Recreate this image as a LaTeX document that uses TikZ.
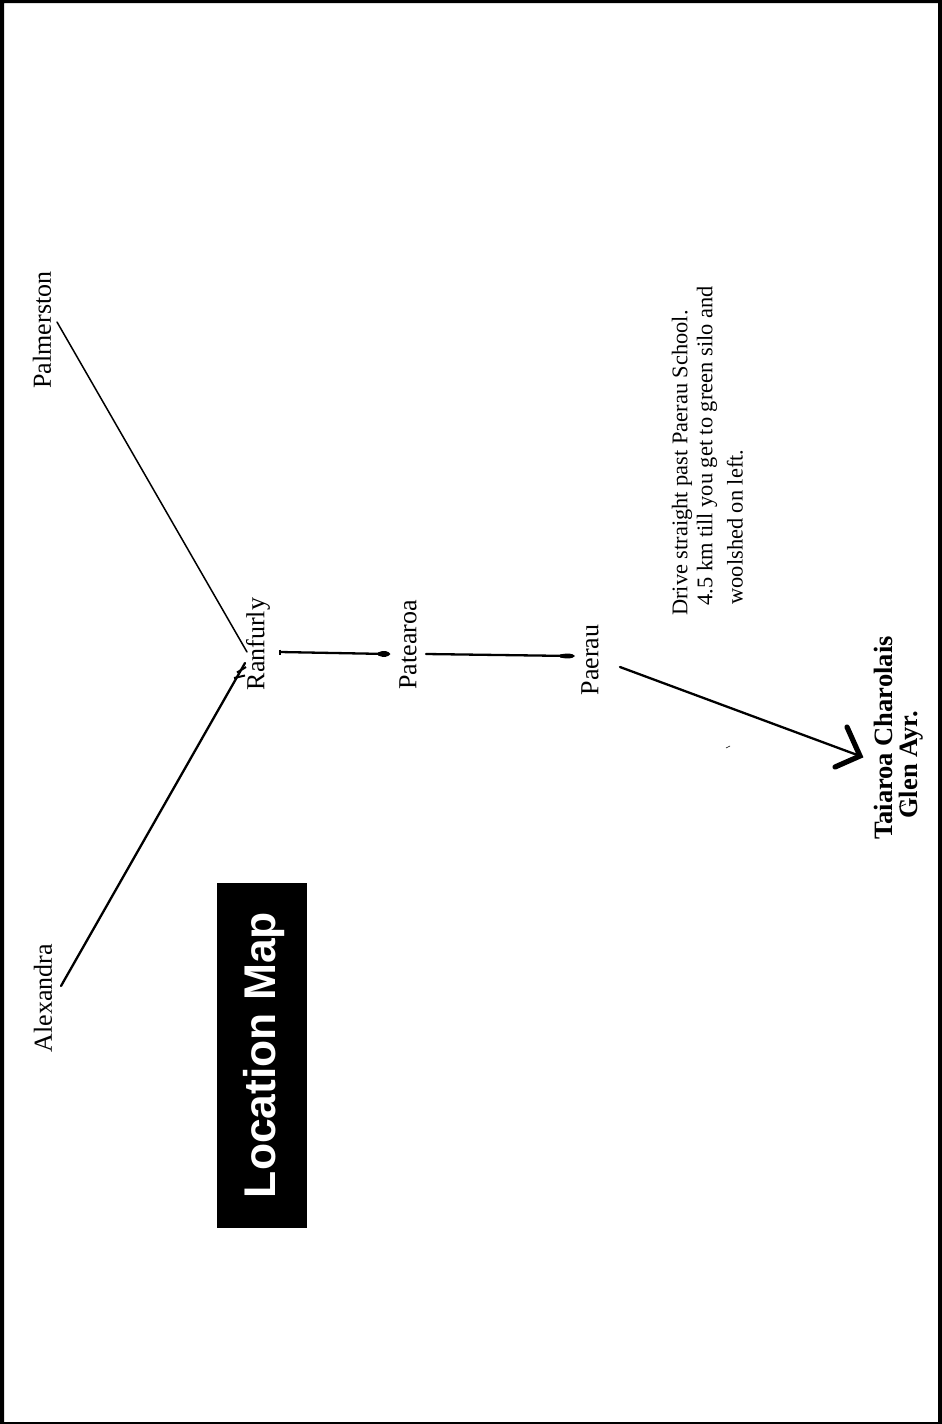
\documentclass[tikz,border=0pt]{standalone}
\usepackage{fontspec}
\setmainfont{Liberation Serif}
\newfontfamily\titlefont{Liberation Sans}
\tikzset{
  x=1pt,y=-1pt,
  place/.style={rotate=90,inner sep=0pt,font=\fontsize{26}{26}\selectfont},
  note/.style={rotate=90,inner sep=0pt,font=\fontsize{22.4}{23}\selectfont},
  farm/.style={rotate=90,inner sep=0pt,font=\fontsize{26.5}{27}\selectfont\bfseries},
  road/.style={line width=1.5pt,line cap=round},
  thickroad/.style={line width=2.3pt,line cap=round},
  headstroke/.style={line width=5.2pt,line cap=round,line join=miter}
}
\begin{document}
\begin{tikzpicture}
\useasboundingbox (0,0) rectangle (942,1424);
\fill[black,even odd rule] (0,0) rectangle (942,1424) (4,3) rectangle (938,1422);
\node[fill=black,minimum width=90pt,minimum height=345pt,inner sep=0pt] (titlebox) at (262,1055.5) {};
\node[rotate=90,inner sep=0pt,text=white,font=\titlefont\fontsize{44.4}{44}\selectfont\bfseries] (title) at (264,1055) {Location Map};
\node[place] (palmerston) at (42,330) {Palmerston};
\node[place] (alexandra) at (43,998) {Alexandra};
\node[place] (ranfurly) at (258,644) {Ranfurly};
\node[place] (patearoa) at (408,645) {Patearoa};
\node[place] (paerau) at (590,660) {Paerau};
\node[note] (l1) at (682,463) {Drive straight past Paerau School.};
\node[note] (l2) at (707,446) {4.5 km till you get to green silo and};
\node[note] (l3) at (735,527) {woolshed on left.};
\node[farm] (taiaroa) at (883,738) {Taiaroa Charolais};
\node[farm] (glen) at (911,765) {Glen Ayr.};
\coordinate (pa) at (57,322);
\coordinate (pb) at (247,652);
\coordinate (aa) at (61,986);
\coordinate (ab) at (245,663);
\coordinate (ra) at (280,652);
\coordinate (rb) at (388,654);
\coordinate (ta) at (426,654);
\coordinate (tb) at (572,656);
\coordinate (ea) at (620,667);
\coordinate (eb) at (860,756);
\coordinate (h1) at (847,727);
\coordinate (h2) at (835,767);
\coordinate (s1) at (726,748);
\coordinate (s2) at (730,746);
\draw[road] (pa) -- (pb);
\draw[thickroad] (aa) -- (ab);
\draw[line width=2pt] (234,678) -- (245,675.5) (237,672.5) -- (246,667);
\draw[thickroad] (ra) -- (rb);
\draw[line width=1.4pt] (280,649.5) -- (280,655);
\fill (390.5,654) .. controls (388,651) and (384,649.5) .. (378,652.5) -- (378,655.5) .. controls (384,658) and (388,657) .. (390.5,654) -- cycle;
\draw[thickroad] (ta) -- (tb);
\fill (575,656) .. controls (572,653) and (568,653) .. (560,654.5) -- (560,657.5) .. controls (568,659) and (572,659) .. (575,656) -- cycle;
\draw[thickroad] (ea) -- (eb);
\draw[headstroke] (h1) -- (eb) -- (h2);
\draw[line width=.6pt] (s1) -- (s2);
\draw[line width=.7pt] (899,807) -- (906,804);
\end{tikzpicture}
\end{document}
